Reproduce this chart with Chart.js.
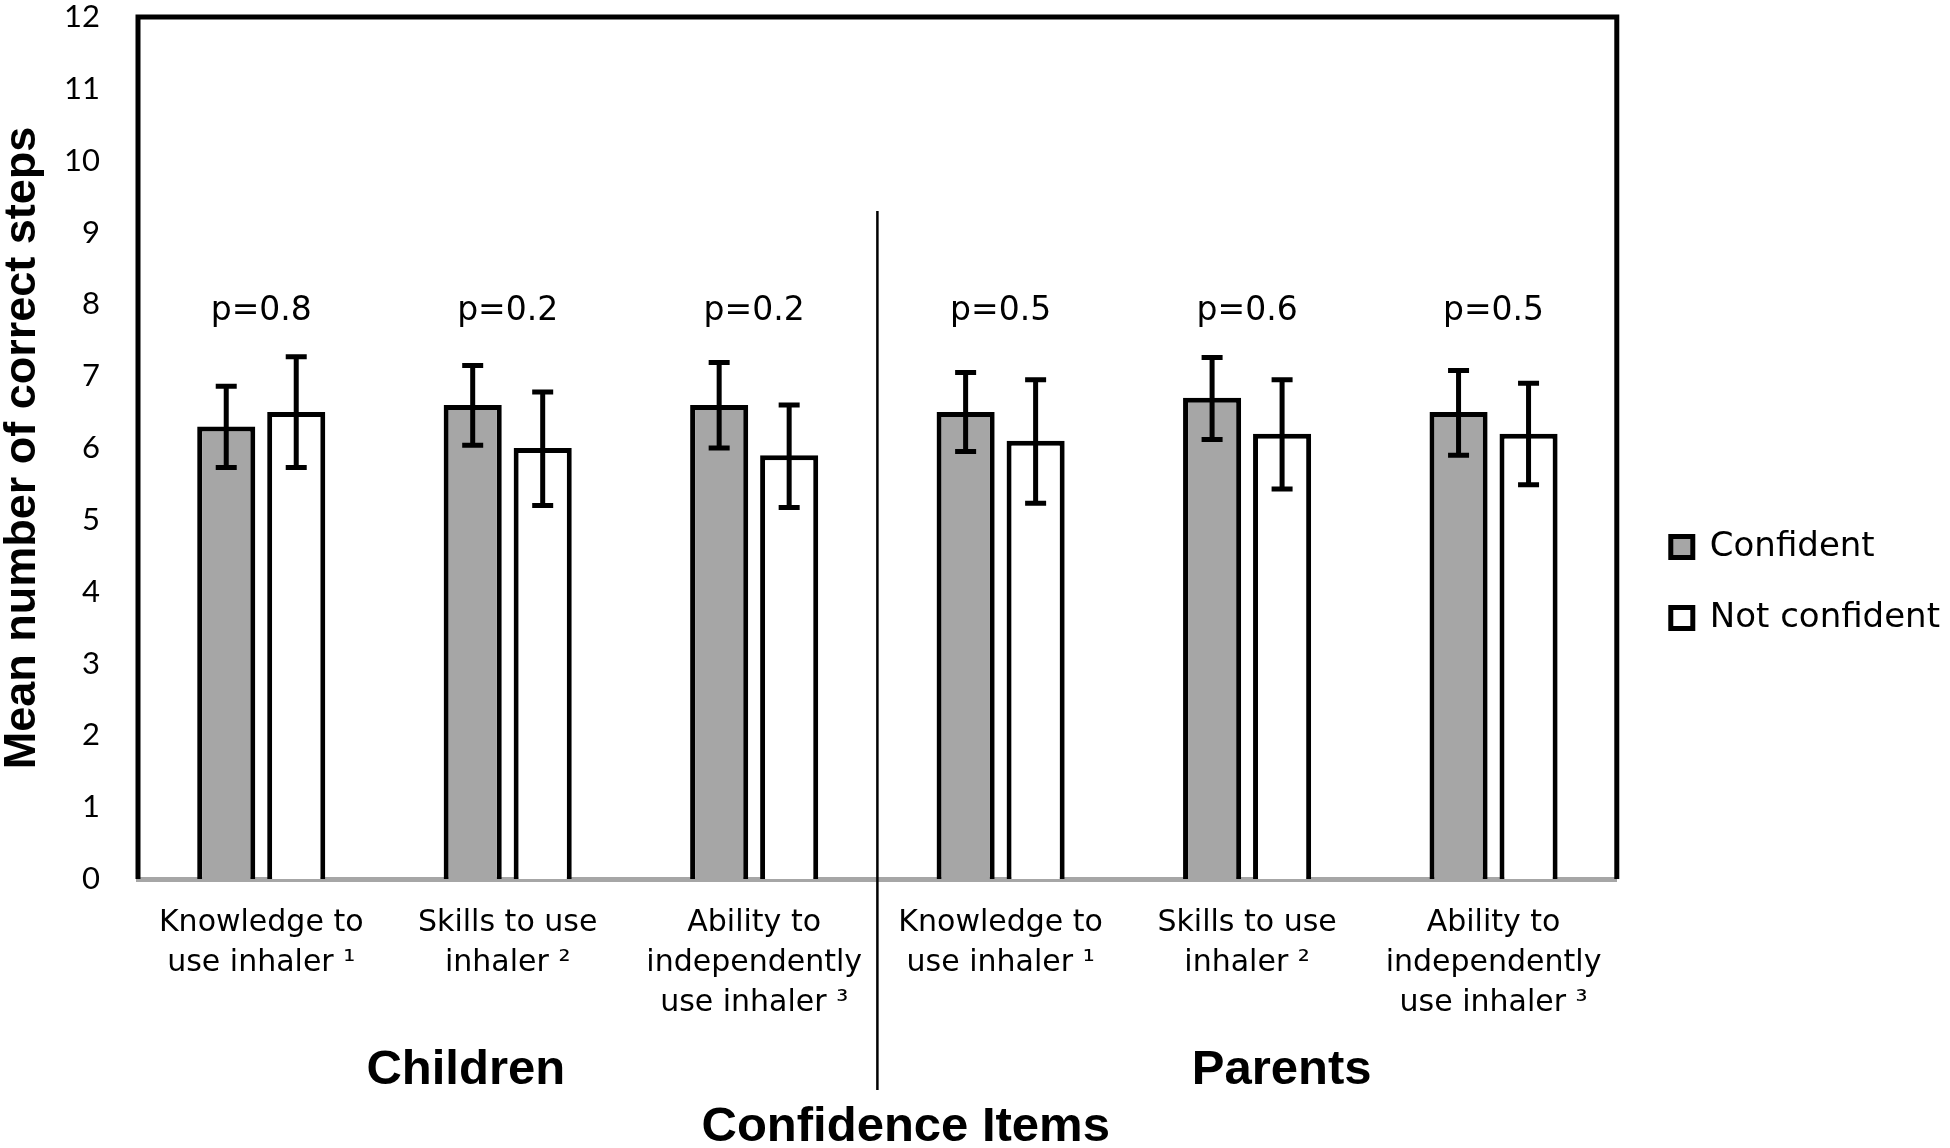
<!DOCTYPE html>
<html>
<head>
<meta charset="utf-8">
<script src="https://cdn.jsdelivr.net/npm/chart.js@4.4.0/dist/chart.umd.min.js"></script>
<style>
  html, body { margin: 0; padding: 0; background: #fff; overflow: hidden; }
  #wrap { width: 1950px; height: 1148px; }
</style>
</head>
<body>
<div id="wrap"><canvas id="chart"></canvas></div>
<script>
const categorias = [
  ['Knowledge to', 'use inhaler ¹'],
  ['Skills to use', 'inhaler ²'],
  ['Ability to', 'independently', 'use inhaler ³'],
  ['Knowledge to', 'use inhaler ¹'],
  ['Skills to use', 'inhaler ²'],
  ['Ability to', 'independently', 'use inhaler ³']
];
const confiante = [6.3, 6.6, 6.6, 6.5, 6.7, 6.5];
const confianteMin = [5.73, 6.04, 6.0, 5.95, 6.12, 5.9];
const confianteMax = [6.86, 7.15, 7.19, 7.05, 7.26, 7.08];
const naoConfiante = [6.5, 6.0, 5.9, 6.1, 6.2, 6.2];
const naoConfianteMin = [5.73, 5.2, 5.17, 5.23, 5.43, 5.49];
const naoConfianteMax = [7.27, 6.78, 6.6, 6.95, 6.95, 6.9];
const pValores = ['p=0.8', 'p=0.2', 'p=0.2', 'p=0.5', 'p=0.6', 'p=0.5'];
const grupos = ['Children', 'Parents'];
const posGrupos = [0.83, 4.14];
const nivelP = 7.9;
const topoDivisor = 9.3;

const fonte = '"DejaVu Sans", sans-serif';
const fonteNegrito = '"Liberation Sans", Arial, sans-serif';

const extras = {
  id: 'extras',
  afterDatasetsDraw(chart) {
    const { ctx, chartArea: a, scales: { x, y } } = chart;
    ctx.save();
    ctx.strokeStyle = '#000';
    ctx.fillStyle = '#000';

    // barras de erro
    [[0, confianteMin, confianteMax], [1, naoConfianteMin, naoConfianteMax]].forEach(([di, lo, hi]) => {
      chart.getDatasetMeta(di).data.forEach((bar, i) => {
        const t = y.getPixelForValue(hi[i]);
        const b = y.getPixelForValue(lo[i]);
        ctx.beginPath();
        ctx.moveTo(bar.x, t); ctx.lineTo(bar.x, b);
        ctx.moveTo(bar.x - 10.5, t); ctx.lineTo(bar.x + 10.5, t);
        ctx.moveTo(bar.x - 10.5, b); ctx.lineTo(bar.x + 10.5, b);
        ctx.lineWidth = 5;
        ctx.stroke();
      });
    });

    // moldura
    ctx.beginPath();
    ctx.moveTo(a.left, a.bottom);
    ctx.lineTo(a.left, a.top);
    ctx.lineTo(a.right, a.top);
    ctx.lineTo(a.right, a.bottom);
    ctx.lineWidth = 5;
    ctx.stroke();

    // divisor entre criancas e pais
    const xd = (x.getPixelForValue(2) + x.getPixelForValue(3)) / 2;
    ctx.beginPath();
    ctx.moveTo(xd, y.getPixelForValue(topoDivisor));
    ctx.lineTo(xd, a.bottom + 211);
    ctx.lineWidth = 2.5;
    ctx.stroke();

    ctx.textAlign = 'center';
    ctx.textBaseline = 'middle';
    ctx.font = `33px ${fonte}`;
    pValores.forEach((p, i) => {
      ctx.fillText(p, x.getPixelForValue(i), y.getPixelForValue(nivelP));
    });

    ctx.font = `bold 49px ${fonteNegrito}`;
    grupos.forEach((g, i) => {
      ctx.fillText(g, x.getPixelForValue(posGrupos[i]), a.bottom + 191);
    });
    ctx.fillText('Confidence Items', x.getPixelForValue(2.615), a.bottom + 248);
    ctx.restore();
  }
};

function semPadding(s) {
  s.paddingTop = 0;
  s.paddingBottom = 0;
}

new Chart(document.getElementById('chart'), {
  type: 'bar',
  data: {
    labels: categorias,
    datasets: [
      {
        label: 'Confident',
        data: confiante,
        backgroundColor: '#a6a6a6',
        borderColor: '#000',
        borderWidth: 5,
        categoryPercentage: 0.568,
        barPercentage: 0.83
      },
      {
        label: 'Not confident',
        data: naoConfiante,
        backgroundColor: '#fff',
        borderColor: '#000',
        borderWidth: 5,
        categoryPercentage: 0.568,
        barPercentage: 0.83
      }
    ]
  },
  options: {
    responsive: true,
    maintainAspectRatio: false,
    animation: false,
    layout: { padding: { top: 17, right: 0, bottom: 0, left: 0 } },
    plugins: {
      tooltip: { enabled: false },
      legend: {
        position: 'right',
        labels: {
          color: '#000',
          font: { family: fonte, size: 34 },
          boxWidth: 22,
          boxHeight: 21,
          padding: 37
        }
      }
    },
    scales: {
      x: {
        grid: { display: false, drawTicks: false },
        border: { display: true, color: '#a6a6a6', width: 5 },
        ticks: {
          color: '#000',
          font: { family: fonte, size: 30, lineHeight: 1.333 },
          padding: 24,
          maxRotation: 0,
          autoSkip: false
        },
        afterFit(s) { s.height = 269; }
      },
      y: {
        min: 0,
        max: 12,
        grid: { display: false, drawTicks: false },
        border: { display: false },
        ticks: {
          stepSize: 1,
          color: '#000',
          font: { family: 'Lato, sans-serif', size: 31, lineHeight: 1 },
          padding: 38
        },
        title: {
          display: true,
          text: 'Mean number of correct steps',
          color: '#000',
          font: { family: fonteNegrito, size: 45, weight: 'bold', lineHeight: 1 },
          padding: 0
        },
        afterFit(s) { s.width = 138; semPadding(s); }
      },
      yR: {
        position: 'right',
        display: true,
        grid: { display: false, drawTicks: false },
        border: { display: false },
        ticks: { display: false },
        afterFit(s) { s.width = 17; semPadding(s); }
      }
    }
  },
  plugins: [extras]
});
</script>
</body>
</html>
